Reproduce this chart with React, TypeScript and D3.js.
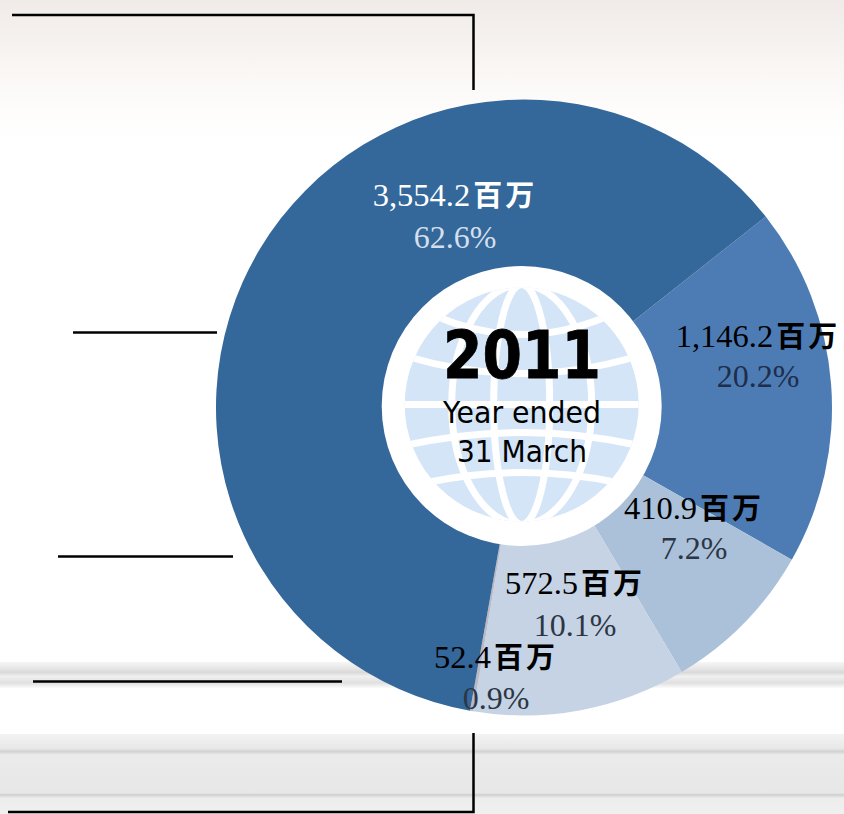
import * as d3 from "d3";

const amounts = ["1,146.2", "410.9", "572.5", "52.4", "3,554.2"];
const percents = ["20.2%", "7.2%", "10.1%", "0.9%", "62.6%"];
// slice sweep in degrees as drawn in the picture (printed figures add up to 101%)
const sweeps = [67.9, 29.6, 40.3, 0.6, 221.6];
const colors = ["#4d7cb5", "#abc0d9", "#c5d3e5", "#b9b9c6", "#34679a"];
const amountColors = ["#000", "#000", "#000", "#000", "#fff"];
const percentColors = ["#1d2d4a", "#2c3644", "#2c3644", "#2c3644", "#d3dfec"];
const labelX = [758, 694, 575, 496, 455];
const amountY = [347, 519, 594, 668, 206];
const percentY = [387, 559, 636, 709, 248];

const meridians = [28, 70];
const parallels = [
  { edge: -88, mid: -70 },
  { edge: -48, mid: -31 },
  { edge: 0, mid: 0 },
  { edge: 41, mid: 28 },
  { edge: 78, mid: 68 },
];

const leaders = [
  [[12, 15], [473.5, 15], [473.5, 90]],
  [[73, 332.5], [217, 332.5]],
  [[58, 556.5], [233, 556.5]],
  [[33, 681.5], [342, 681.5]],
  [[473.5, 733], [473.5, 812], [8, 812]],
] as [number, number][][];

const width = 844;
const height = 814;
const cx = 524;
const cy = 407.5;
const radius = 308;
const serif = "'Liberation Serif', serif";
const cjk = "'Noto Sans CJK SC', sans-serif";
const sans = "'DejaVu Sans', sans-serif";

export default function App() {
  const pie = d3
    .pie<number>()
    .sort(null)
    .value((d) => d)
    .startAngle((51.7 * Math.PI) / 180)
    .endAngle((411.7 * Math.PI) / 180);
  const arc = d3.arc<d3.PieArcDatum<number>>().innerRadius(0).outerRadius(radius);
  const slices = pie(sweeps);
  const leaderLine = d3.line();

  const parallelPath = (edge: number, mid: number) => {
    const p = d3.path();
    const r = 117;
    const half = Math.sqrt(Math.max(r * r - edge * edge, 0)) + 8;
    p.moveTo(-half, edge);
    p.quadraticCurveTo(0, 2 * mid - edge, half, edge);
    return p.toString();
  };

  return (
    <svg
      width={width}
      height={height}
      viewBox={`0 0 ${width} ${height}`}
      style={{ position: "absolute", left: 0, top: 0 }}
    >
      <defs>
        <linearGradient id="top" x1="0" y1="0" x2="0" y2="1">
          <stop offset="0" stopColor="#f0ebe8" />
          <stop offset="0.35" stopColor="#f7f3f0" />
          <stop offset="0.7" stopColor="#fdfbfa" />
          <stop offset="1" stopColor="#ffffff" />
        </linearGradient>
        <linearGradient id="band" x1="0" y1="0" x2="0" y2="1">
          <stop offset="0" stopColor="#f6f6f6" />
          <stop offset="0.25" stopColor="#e6e6e6" />
          <stop offset="0.4" stopColor="#d9d9d9" />
          <stop offset="0.55" stopColor="#f0f0f0" />
          <stop offset="0.8" stopColor="#e0e0e0" />
          <stop offset="1" stopColor="#fbfbfb" />
        </linearGradient>
        <linearGradient id="floor" x1="0" y1="0" x2="0" y2="1">
          <stop offset="0" stopColor="#f3f3f3" />
          <stop offset="0.18" stopColor="#e8e8e8" />
          <stop offset="0.22" stopColor="#d2d2d2" />
          <stop offset="0.26" stopColor="#ebebeb" />
          <stop offset="0.74" stopColor="#e7e7e7" />
          <stop offset="0.76" stopColor="#cecece" />
          <stop offset="0.8" stopColor="#ededed" />
          <stop offset="1" stopColor="#f0f0f0" />
        </linearGradient>
        <clipPath id="globe">
          <circle cx={0} cy={0} r={117} />
        </clipPath>
      </defs>

      <rect width={width} height={height} fill="#fff" />
      <rect width={width} height={140} fill="url(#top)" />
      <rect y={662} width={width} height={26} fill="url(#band)" />
      <rect y={734} width={width} height={80} fill="url(#floor)" />

      {leaders.map((pts, i) => (
        <path key={i} d={leaderLine(pts) ?? ""} fill="none" stroke="#000" strokeWidth={2.5} />
      ))}

      <g transform={`translate(${cx},${cy})`}>
        {slices.map((d, i) => (
          <path key={i} d={arc(d) ?? ""} fill={colors[i]} />
        ))}
      </g>

      <circle cx={521.7} cy={406} r={140} fill="#fff" />
      <g transform="translate(521.7,404.5)">
        <circle r={117} fill="#d4e5f8" />
        <g clipPath="url(#globe)" fill="none" stroke="#fff" strokeWidth={7}>
          {meridians.map((rx) => (
            <ellipse key={rx} rx={rx} ry={120} />
          ))}
          {parallels.map((p, i) => (
            <path key={i} d={parallelPath(p.edge, p.mid)} />
          ))}
        </g>
      </g>

      <text x={522} y={377.5} textAnchor="middle" fontFamily={sans} fontWeight="bold" fontSize={65} textLength={158} lengthAdjust="spacingAndGlyphs" stroke="#000" strokeWidth={0.8}>
        2011
      </text>
      <text x={522} y={423} textAnchor="middle" fontFamily={sans} fontSize={30.5} textLength={158} lengthAdjust="spacingAndGlyphs">
        Year ended
      </text>
      <text x={522} y={462} textAnchor="middle" fontFamily={sans} fontSize={30.5} textLength={130} lengthAdjust="spacingAndGlyphs">
        31 March
      </text>

      {amounts.map((a, i) => (
        <g key={a}>
          <text x={labelX[i]} y={amountY[i]} textAnchor="middle" fontFamily={serif} fontSize={32.5} fill={amountColors[i]}>
            {a}
            <tspan dx={3} fontFamily={cjk} fontWeight="bold" fontSize={29} letterSpacing={3}>
              百万
            </tspan>
          </text>
          <text x={labelX[i]} y={percentY[i]} textAnchor="middle" fontFamily={serif} fontSize={32} fill={percentColors[i]}>
            {percents[i]}
          </text>
        </g>
      ))}
    </svg>
  );
}
